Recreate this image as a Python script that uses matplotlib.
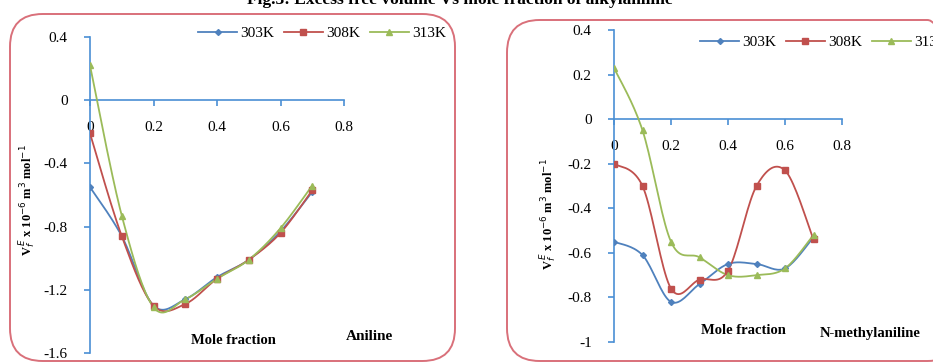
import numpy as np
import matplotlib
matplotlib.use("Agg")
import matplotlib.pyplot as plt
from matplotlib.patches import FancyBboxPatch

# ---- data ----
mole_fraction = [0.0, 0.1, 0.2, 0.3, 0.4, 0.5, 0.6, 0.7]
series_labels = ["303K", "308K", "313K"]

aniline_303 = [-0.55, -0.86, -1.30, -1.26, -1.12, -1.01, -0.83, -0.58]
aniline_308 = [-0.21, -0.86, -1.30, -1.29, -1.13, -1.01, -0.84, -0.57]
aniline_313 = [0.22, -0.73, -1.31, -1.26, -1.13, -1.01, -0.81, -0.54]

nma_303 = [-0.55, -0.61, -0.82, -0.74, -0.65, -0.65, -0.67, -0.53]
nma_308 = [-0.20, -0.30, -0.76, -0.72, -0.68, -0.30, -0.23, -0.54]
nma_313 = [0.23, -0.05, -0.55, -0.62, -0.70, -0.70, -0.67, -0.52]

left_yticks = [0.4, 0, -0.4, -0.8, -1.2, -1.6]
right_yticks = [0.4, 0.2, 0, -0.2, -0.4, -0.6, -0.8, -1]
xticks = [0, 0.2, 0.4, 0.6, 0.8]

colors = ["#4F81BD", "#C0504D", "#9BBB59"]
markers = ["D", "s", "^"]
msizes = [3, 5, 4.5]
axis_color = "#4A8FD4"
border_color = "#D9707A"
serif = ["Liberation Serif", "DejaVu Serif"]


def smooth(x, y, n=20):
    """Excel-style smoothed line (Catmull-Rom Bezier) through the points."""
    x = np.asarray(x, float)
    y = np.asarray(y, float)
    pts = np.column_stack([x, y])
    out = [pts[0]]
    t = np.linspace(0, 1, n)[1:]
    for i in range(len(pts) - 1):
        p0 = pts[i - 1] if i > 0 else pts[i]
        p1 = pts[i]
        p2 = pts[i + 1]
        p3 = pts[i + 2] if i + 2 < len(pts) else pts[i + 1]
        c1 = p1 + (p2 - p0) / 6.0
        c2 = p2 - (p3 - p1) / 6.0
        for tt in t:
            b = ((1 - tt) ** 3) * p1 + 3 * ((1 - tt) ** 2) * tt * c1 + \
                3 * (1 - tt) * tt ** 2 * c2 + tt ** 3 * p2
            out.append(b)
    out = np.array(out)
    return out[:, 0], out[:, 1]


W, H = 933, 363
fig = plt.figure(figsize=(W / 100, H / 100), dpi=100)
fig.patch.set_facecolor("white")


def px_axes(x0, x1, ytop, ybot):
    return fig.add_axes([x0 / W, 1 - ybot / H, (x1 - x0) / W, (ybot - ytop) / H])


# panel borders
for (bx0, by0, bx1, by1) in [(10, 14, 455, 361), (507, 20, 960, 361)]:
    fig.patches.append(FancyBboxPatch(
        (bx0 / W, 1 - by1 / H), (bx1 - bx0) / W, (by1 - by0) / H,
        boxstyle="round,pad=0,rounding_size=0.035", transform=fig.transFigure,
        facecolor="none", edgecolor=border_color, linewidth=1.4, mutation_aspect=W / H))

# title (cut at top, as in the reference)
fig.text(0.493, 1.0, "Fig.3: Excess free volume Vs mole fraction of alkylaniline",
         ha="center", va="center", fontsize=12.5, fontweight="bold", family=serif)


def setup(ax, ylim, yticks, ytl_fmt):
    ax.set_xlim(0, 0.8)
    ax.set_ylim(*ylim)
    ax.set_facecolor("none")
    for s in ["top", "right"]:
        ax.spines[s].set_visible(False)
    ax.spines["left"].set_color(axis_color)
    ax.spines["left"].set_linewidth(1.2)
    ax.spines["bottom"].set_position(("data", 0))
    ax.spines["bottom"].set_color(axis_color)
    ax.spines["bottom"].set_linewidth(1.2)
    ax.set_yticks(yticks)
    ax.set_yticklabels([ytl_fmt(v) for v in yticks], family=serif, fontsize=11)
    ax.set_xticks(xticks)
    ax.set_xticklabels(["0", "0.2", "0.4", "0.6", "0.8"], family=serif, fontsize=11)
    ax.tick_params(axis="y", direction="out", length=4, color=axis_color, width=1.2, pad=12)
    ax.tick_params(axis="x", direction="out", length=4, color=axis_color, width=1.2, pad=11)


def fmt(v):
    return "0" if v == 0 else f"{v:g}"


datasets = [
    (aniline_303, aniline_308, aniline_313),
    (nma_303, nma_308, nma_313),
]

axL = px_axes(90, 344, 37, 353)
setup(axL, (-1.6, 0.4), left_yticks, fmt)
axR = px_axes(614, 842, 30, 342)
setup(axR, (-1.0, 0.4), right_yticks, fmt)

for ax, data in [(axL, datasets[0]), (axR, datasets[1])]:
    for vals, c, m, ms, lab in zip(data, colors, markers, msizes, series_labels):
        sx, sy = smooth(mole_fraction, vals)
        ax.plot(sx, sy, color=c, lw=1.3, zorder=3)
        ax.plot(mole_fraction, vals, ls="none", marker=m, ms=ms, color=c, zorder=4)
        ax.plot([], [], color=c, lw=1.3, marker=m, ms=ms, label=lab)

legkw = dict(ncol=3, frameon=False, handlelength=2.6, handletextpad=0.2,
             columnspacing=0.6, prop={"family": serif, "size": 11})
axL.legend(loc="center", bbox_to_anchor=(322 / W, 1 - 33 / H),
           bbox_transform=fig.transFigure, **legkw)
axR.legend(loc="center", bbox_to_anchor=(824 / W, 1 - 42 / H),
           bbox_transform=fig.transFigure, **legkw)

# y labels
ylab = r"V$_f^{\,E}$ x 10$^{-6}$ m$^3$ mol$^{-1}$"
for xp, yp in [(28, 200), (549, 214)]:
    fig.text(xp / W, 1 - yp / H, ylab, rotation=90, ha="center", va="center",
             fontsize=9, fontweight="bold", family=serif)

# bottom labels
fig.text(233 / W, 1 - 340 / H, "Mole fraction", ha="center", va="center",
         fontsize=10.5, fontweight="bold", family=serif)
fig.text(369 / W, 1 - 336 / H, "Aniline", ha="center", va="center",
         fontsize=11, fontweight="bold", family=serif)
fig.text(743 / W, 1 - 330 / H, "Mole fraction", ha="center", va="center",
         fontsize=10.5, fontweight="bold", family=serif)
fig.text(870 / W, 1 - 333 / H, "N-methylaniline", ha="center", va="center",
         fontsize=10.5, fontweight="bold", family=serif)

fig.savefig("out.png", dpi=100)
